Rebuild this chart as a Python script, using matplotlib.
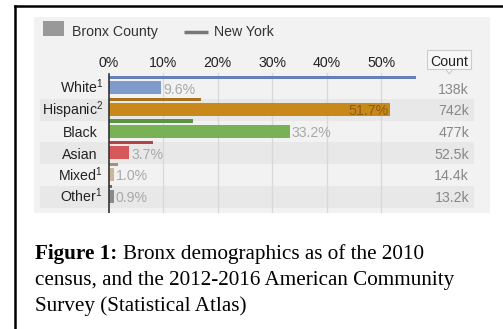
import matplotlib
matplotlib.use("Agg")
import matplotlib.pyplot as plt
from matplotlib.patches import Rectangle, Polygon
from matplotlib.lines import Line2D

plt.rcParams['font.family'] = ['Liberation Sans', 'DejaVu Sans']
plt.rcParams['mathtext.fontset'] = 'custom'
plt.rcParams['mathtext.rm'] = 'Liberation Sans'
plt.rcParams['mathtext.it'] = 'Liberation Sans'

# data
groups = ["White", "Hispanic", "Black", "Asian", "Mixed", "Other"]
notes = ["1", "2", "", "", "1", "1"]
bronx_pct = [9.6, 51.7, 33.2, 3.7, 1.0, 0.9]
ny_pct = [56.4, 17.0, 15.5, 8.1, 1.7, 0.5]
counts = ["138k", "742k", "477k", "52.5k", "14.4k", "13.2k"]
ticks = [0, 10, 20, 30, 40, 50]

bronx_col = ["#7f9acb", "#c8891a", "#78b255", "#d65858", "#cbb89a", "#8a8a8a"]
ny_col = ["#6480b8", "#a8711c", "#5b9344", "#b04545", "#a89070", "#6a6a6a"]

W, H = 503, 329
fig = plt.figure(figsize=(W / 100, H / 100), dpi=100)
fig.patch.set_facecolor("white")

# panel in pixels
pl, pr, pt, pb = 34, 490, 17, 213
x0, xs = 109, 5.44      # px of 0%, px per 1%
y0, ys = 88, 21.75      # px of first row centre, px per row
fs = 10.2


def px(v):
    return (v - x0) / xs


def py(v):
    return (v - y0) / ys


ax = fig.add_axes([pl / W, 1 - pb / H, (pr - pl) / W, (pb - pt) / H])
ax.set_facecolor("#f2f2f2")
ax.set_xlim(px(pl), px(pr))
ax.set_ylim(py(pb), py(pt))
for s in ax.spines.values():
    s.set_visible(False)
ax.set_xticks([])
ax.set_yticks([])

rows = range(len(groups))
base = 5.5 / ys   # text baseline below row centre

# stripes
for i in rows:
    if i % 2 == 1:
        ax.add_patch(Rectangle((px(40), i - 0.5), px(474) - px(40), 1.0,
                               fc="#e8e8e8", ec="none", zorder=0))

# grid + axis
for t in ticks[1:]:
    ax.plot([t, t], [py(73), py(pb)], color="#d8d8d8", lw=0.9, zorder=1)
ax.plot([0, 0], [py(74), py(pb)], color="#333333", lw=1.2, zorder=4)
for t in ticks:
    ax.text(t, py(66.7), f"{t}%", ha="center", va="baseline", fontsize=fs,
            color="#222222")

# bars
ax.barh([i - 0.02 for i in rows], bronx_pct, height=0.6, left=0,
        color=bronx_col, zorder=2)
ax.barh([i - 0.485 for i in rows], ny_pct, height=0.15, left=0,
        color=ny_col, zorder=3)

for i in rows:
    lab = groups[i] + (r"$^{%s}$" % notes[i] if notes[i] else "")
    xr = px(103) if notes[i] else px(97.5)
    ax.text(xr, i + base, lab, ha="right", va="baseline", fontsize=fs,
            color="#222222")
    v = bronx_pct[i]
    if v > 45:
        ax.text(v - 0.3, i + base, f"{v:.1f}%", ha="right", va="baseline",
                fontsize=fs, color="#8c5e10", zorder=5)
    else:
        ax.text(v + 0.35, i + base, f"{v:.1f}%", ha="left", va="baseline",
                fontsize=fs, color="#a8a8a8", zorder=5)
    ax.text(px(469), i + base, counts[i], ha="right", va="baseline",
            fontsize=fs, color="#888888")

# count header box
ax.add_patch(Rectangle((px(427), py(69)), px(471) - px(427), py(50) - py(69),
                       fc="#f7f7f7", ec="#cccccc", lw=0.8, zorder=5))
ax.add_patch(Polygon([(px(445.5), py(69)), (px(453), py(69)), (px(449.3), py(74))],
                     closed=True, fc="#f7f7f7", ec="#cccccc", lw=0.8, zorder=4))
ax.text((px(427) + px(471)) / 2, py(65.5), "Count", ha="center", va="baseline",
        fontsize=fs, color="#222222", zorder=6)

# legend
ax.add_patch(Rectangle((px(43), py(36)), px(64) - px(43), py(20.7) - py(36),
                       fc="#999999", ec="none"))
ax.text(px(72), py(36), "Bronx County", ha="left", va="baseline",
        fontsize=fs, color="#333333")
ax.plot([px(184), px(208)], [py(32), py(32)], color="#777777", lw=2.5,
        solid_capstyle="butt")
ax.text(px(214), py(36), "New York", ha="left", va="baseline",
        fontsize=fs, color="#333333")

# frame
fig.add_artist(Line2D([15 / W, 15 / W], [0, 1 - 5.5 / H], color="black", lw=1.8,
                      transform=fig.transFigure))
fig.add_artist(Line2D([15 / W, 1], [1 - 6 / H, 1 - 6 / H], color="black", lw=1.8,
                      transform=fig.transFigure))

# caption
serif = ['Liberation Serif', 'DejaVu Serif']
cap_fs = 15.2
fig.canvas.draw()
r = fig.canvas.get_renderer()
bold = fig.text(35 / W, 1 - 259 / H, "Figure 1:", family=serif, weight="bold",
                fontsize=cap_fs, va="baseline", color="black")
bb = bold.get_window_extent(renderer=r)
fig.text(bb.x1 / W + 6 / W, 1 - 259 / H, "Bronx demographics as of the 2010",
         family=serif, fontsize=cap_fs, va="baseline", color="black")
fig.text(35 / W, 1 - 285 / H, "census, and the 2012-2016 American Community",
         family=serif, fontsize=cap_fs, va="baseline", color="black")
fig.text(35 / W, 1 - 311 / H, "Survey (Statistical Atlas)",
         family=serif, fontsize=cap_fs, va="baseline", color="black")

fig.savefig("out.png", dpi=100)
